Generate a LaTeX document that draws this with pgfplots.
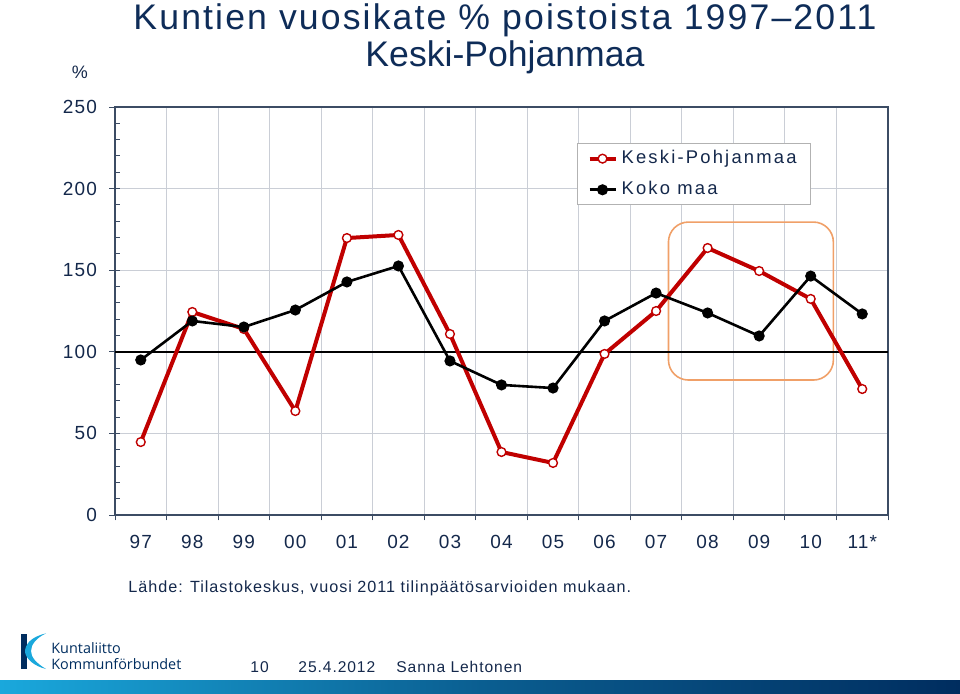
\documentclass[border=0pt]{standalone}
\usepackage{pgfplots}
\pgfplotsset{compat=1.18}
\usepackage{fontspec}
\setmainfont[LetterSpace=6]{Liberation Sans}
\newfontfamily\legfont[LetterSpace=12]{Liberation Sans}
\newfontfamily\plainfont{Liberation Sans}
\newfontfamily\logofont{Open Sans}
\usetikzlibrary{shadings}

\definecolor{txt}{HTML}{14284B}
\definecolor{ttl}{HTML}{0E2C58}
\definecolor{frame}{HTML}{3C4C64}
\definecolor{gridc}{HTML}{CACED6}
\definecolor{kp}{HTML}{C00000}
\definecolor{boxo}{HTML}{F0A068}
\definecolor{navy}{HTML}{002D5F}
\definecolor{cyanl}{HTML}{1AA8DC}

% values, years 97 ... 11*
\pgfplotstableread{
x   kp     koko
0.5  44.7  95.0
1.5 124.4 118.9
2.5 114.0 115.2
3.5  63.7 125.6
4.5 169.7 142.8
5.5 171.6 152.6
6.5 110.9  94.4
7.5  38.6  79.7
8.5  31.9  77.8
9.5  98.7 118.9
10.5 125.0 136.0
11.5 163.6 123.8
12.5 149.5 109.7
13.5 132.4 146.4
14.5  77.2 123.2
}\datatable

\begin{document}
\begin{tikzpicture}
\useasboundingbox (0,0) rectangle (480pt,346.5pt);

% title
\node[anchor=base, text=ttl, font=\fontsize{17.8}{20}\selectfont] at (252.5pt,331.5pt) {Kuntien vuosikate \% poistoista 1997--2011};
\node[anchor=base, text=ttl, font=\plainfont\fontsize{17.8}{20}\selectfont] at (252.5pt,313.5pt) {Keski-Pohjanmaa};
\node[anchor=base, text=txt, font=\fontsize{9}{11}\selectfont] at (40pt,307.5pt) {\%};

\begin{axis}[
    at={(57.5pt,89pt)}, anchor=south west,
    width=386.5pt, height=204pt, scale only axis,
    xmin=0, xmax=15, ymin=0, ymax=250,
    xtick={0.5,1.5,...,14.5},
    xticklabels={97,98,99,00,01,02,03,04,05,06,07,08,09,10,11*},
    minor xtick={0,1,...,15},
    ytick={0,50,...,250},
    minor ytick={10,20,...,240},
    tick align=outside,
    xtick pos=bottom, ytick pos=left,
    major tick length=3pt,
    minor tick length=2.7pt,
    major x tick style={draw=none},
    minor x tick style={draw=frame, line width=0.5pt},
    minor y tick style={draw=frame, line width=0.5pt, xshift=2.7pt},
    major y tick style={draw=frame, line width=0.5pt},
    xminorgrids=true, ymajorgrids=true,
    minor grid style={gridc, line width=0.5pt},
    major grid style={gridc, line width=0.5pt},
    axis line style={frame, line width=1pt},
    /pgf/number format/assume math mode=true,
    ticklabel style={text=txt, font=\fontsize{9.5}{11}\selectfont},
    xticklabel style={yshift=-3.5pt},
    yticklabel style={xshift=-2.5pt},
    legend style={at={(0.5977,0.9118)}, anchor=north west,
        draw=gray!60, line width=0.5pt, text=txt,
        font=\legfont\fontsize{9.2}{11}\selectfont,
        row sep=3.4pt, inner xsep=5pt, inner ysep=1.5pt},
    legend cell align=left,
    legend image code/.code={\draw[mark repeat=2,mark phase=2,#1] plot coordinates {(0pt,0pt)(6.5pt,0pt)(13pt,0pt)};},
]
% highlight box round 2008-2010
\draw[boxo, line width=0.8pt, rounded corners=10pt] (axis cs:10.74,82.7) rectangle (axis cs:13.94,179.5);
% reference line at 100
\addplot[black, line width=0.8pt, forget plot] coordinates {(0,100) (15,100)};
\addplot[kp, line width=2pt, mark=*, mark size=2.2pt,
    mark options={fill=white, draw=kp, line width=0.7pt}] table[x=x, y=kp] {\datatable};
\addplot[black, line width=1.3pt, mark=*, mark size=2.1pt,
    mark options={fill=black, draw=black}] table[x=x, y=koko] {\datatable};
\legend{Keski-Pohjanmaa, Koko maa}
\end{axis}

% source
\node[anchor=base west, text=txt, font=\fontsize{8.1}{9}\selectfont, inner sep=0pt] at (64pt,50.5pt) {Lähde: Tilastokeskus, vuosi 2011 tilinpäätösarvioiden mukaan.};

% footer
\shade[left color=cyanl, right color=navy, middle color=cyanl!40!navy] (0,0) rectangle (480pt,6.5pt);
\fill[navy] (10.5pt,12pt) rectangle (13.5pt,29.5pt);
\fill[cyanl] (23pt,29.8pt) .. controls (15pt,28pt) and (12.5pt,24pt) .. (12.5pt,20.5pt)
    .. controls (13pt,17pt) and (17pt,13.5pt) .. (23pt,12pt)
    .. controls (18pt,15pt) and (15.5pt,18pt) .. (15.5pt,21pt)
    .. controls (15.5pt,24pt) and (18pt,27.5pt) .. (23pt,29.8pt) -- cycle;
\node[anchor=base west, inner sep=0pt, text=navy, font=\logofont\fontsize{7.2}{8}\selectfont] at (25.5pt,20pt) {Kuntaliitto};
\node[anchor=base west, inner sep=0pt, text=navy, font=\logofont\fontsize{7.2}{8}\selectfont] at (25.5pt,11.8pt) {Kommunförbundet};
\node[anchor=base west, inner sep=0pt, text=txt, font=\fontsize{7.8}{9}\selectfont] at (125pt,10.5pt) {10};
\node[anchor=base west, inner sep=0pt, text=txt, font=\fontsize{7.8}{9}\selectfont] at (149pt,10.5pt) {25.4.2012};
\node[anchor=base west, inner sep=0pt, text=txt, font=\fontsize{7.8}{9}\selectfont] at (198pt,10.5pt) {Sanna Lehtonen};
\end{tikzpicture}
\end{document}
